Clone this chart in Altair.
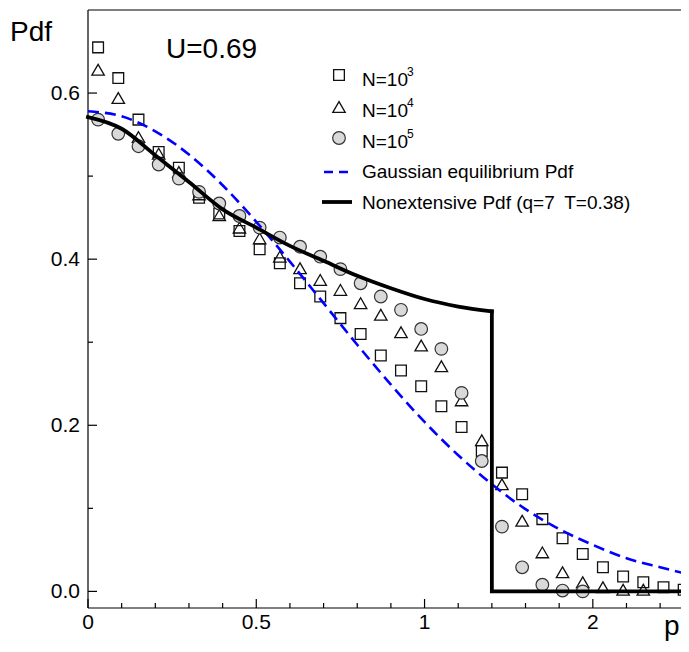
import altair as alt
import pandas as pd

# ---------------- data ----------------
p_n1e3 = [0.03, 0.09, 0.15, 0.21, 0.27, 0.33, 0.39, 0.45, 0.51, 0.57,
          0.63, 0.69, 0.75, 0.81, 0.87, 0.93, 0.99, 1.05, 1.11, 1.17,
          1.23, 1.29, 1.35, 1.41, 1.47, 1.53, 1.59, 1.65, 1.71, 1.77]
pdf_n1e3 = [0.655, 0.618, 0.568, 0.529, 0.510, 0.474, 0.455, 0.434, 0.412, 0.395,
            0.371, 0.355, 0.329, 0.310, 0.284, 0.266, 0.247, 0.223, 0.198, 0.169,
            0.143, 0.117, 0.087, 0.064, 0.045, 0.029, 0.018, 0.011, 0.005, 0.002]

p_n1e4 = p_n1e3[:28]
pdf_n1e4 = [0.628, 0.594, 0.547, 0.527, 0.505, 0.478, 0.453, 0.438, 0.425, 0.403,
            0.389, 0.375, 0.363, 0.347, 0.333, 0.312, 0.296, 0.271, 0.230, 0.182,
            0.129, 0.085, 0.047, 0.023, 0.011, 0.005, 0.002, 0.002]

p_n1e5 = p_n1e3[:25]
pdf_n1e5 = [0.568, 0.551, 0.536, 0.514, 0.497, 0.481, 0.467, 0.452, 0.438, 0.426,
            0.415, 0.403, 0.388, 0.371, 0.355, 0.339, 0.316, 0.292, 0.239, 0.157,
            0.078, 0.029, 0.008, 0.001, 0.000]

gauss_p = [0.0, 0.1, 0.2, 0.3, 0.4, 0.5, 0.6, 0.7, 0.8, 0.9,
           1.0, 1.1, 1.2, 1.3, 1.4, 1.5, 1.6, 1.7, 1.78]
gauss_pdf = [0.578, 0.572, 0.554, 0.526, 0.489, 0.445, 0.397, 0.347, 0.297, 0.249,
             0.204, 0.164, 0.129, 0.099, 0.075, 0.056, 0.040, 0.029, 0.021]

nonext_p = [0.0, 0.1, 0.2, 0.3, 0.4, 0.5, 0.6, 0.7, 0.8, 0.9, 1.0, 1.1, 1.2]
nonext_pdf = [0.571, 0.557, 0.525, 0.493, 0.460, 0.438, 0.416, 0.398, 0.380,
              0.365, 0.352, 0.343, 0.337]
# cut-off: vertical drop at p=1.2 then zero
step_p = [1.2, 1.2, 1.78]
step_pdf = [0.337, 0.0, 0.0]

x_major = [0, 0.5, 1.0, 1.5]
x_major_labels = ["0", "0.5", "1", "2"]
x_minor = [0.1, 0.2, 0.3, 0.4, 0.6, 0.7, 0.8, 0.9, 1.1, 1.2, 1.3, 1.4, 1.6, 1.7]
y_major = [0.0, 0.2, 0.4, 0.6]
y_major_labels = ["0.0", "0.2", "0.4", "0.6"]
y_minor = [0.1, 0.3, 0.5]

legend_labels = ["N=10", "N=10", "N=10", "Gaussian equilibrium Pdf",
                 "Nonextensive Pdf (q=7\u2002T=0.38)"]
legend_exponents = ["3", "4", "5"]

# ---------------- layout ----------------
W, H = 593, 598
X_MAX = 1.762
FONT = "Liberation Sans"
xs = alt.Scale(domain=[0, X_MAX], nice=False, zero=False)
ys = alt.Scale(domain=[-0.02, 0.70], nice=False, zero=False)

one = pd.DataFrame({"a": [0]})


def xy():
    return dict(x=alt.X("p:Q", scale=xs, axis=None),
                y=alt.Y("pdf:Q", scale=ys, axis=None))


# frame lines (left axis, bottom axis, top border)
frame = [
    alt.Chart(one).mark_rule(color="black", strokeWidth=1.2).encode(
        x=alt.value(0), y=alt.value(0), y2=alt.value(H)),
    alt.Chart(one).mark_rule(color="black", strokeWidth=1.2).encode(
        x=alt.value(0), x2=alt.value(W), y=alt.value(H)),
    alt.Chart(one).mark_rule(color="black", strokeWidth=1.2).encode(
        x=alt.value(0), x2=alt.value(W), y=alt.value(0)),
]


# inward ticks
def xticks(vals, length):
    return alt.Chart(pd.DataFrame({"v": vals})).mark_rule(color="black", strokeWidth=1.2).encode(
        x=alt.X("v:Q", scale=xs, axis=None), y=alt.value(H), y2=alt.value(H - length))


def yticks(vals, length):
    return alt.Chart(pd.DataFrame({"v": vals})).mark_rule(color="black", strokeWidth=1.2).encode(
        y=alt.Y("v:Q", scale=ys, axis=None), x=alt.value(0), x2=alt.value(length))


# tick labels
xlab = alt.Chart(pd.DataFrame({"v": x_major, "t": x_major_labels})).mark_text(
    font=FONT, fontSize=21, color="black", align="center", baseline="alphabetic"
).encode(x=alt.X("v:Q", scale=xs, axis=None), y=alt.value(H + 21), text="t:N")
ylab = alt.Chart(pd.DataFrame({"v": y_major, "t": y_major_labels})).mark_text(
    font=FONT, fontSize=21, color="black", align="right", baseline="middle", dy=1
).encode(y=alt.Y("v:Q", scale=ys, axis=None), x=alt.value(-8), text="t:N")

# data markers
sq = alt.Chart(pd.DataFrame({"p": p_n1e3, "pdf": pdf_n1e3})).mark_point(
    shape="square", filled=False, size=115, stroke="#111", strokeWidth=1.3, opacity=1
).encode(**xy())
tri = alt.Chart(pd.DataFrame({"p": p_n1e4, "pdf": pdf_n1e4})).mark_point(
    shape="triangle-up", filled=False, size=155, stroke="#111", strokeWidth=1.3, opacity=1
).encode(**xy())
circ = alt.Chart(pd.DataFrame({"p": p_n1e5, "pdf": pdf_n1e5})).mark_point(
    shape="circle", filled=True, size=160, fill="#d9d9d9", stroke="#333", strokeWidth=1.2, opacity=1
).encode(**xy())

gauss = alt.Chart(pd.DataFrame({"p": gauss_p, "pdf": gauss_pdf})).mark_line(
    color="#0000ff", strokeWidth=2.6, strokeDash=[11, 6], interpolate="monotone"
).encode(**xy())

nonext = alt.Chart(pd.DataFrame({"p": nonext_p, "pdf": nonext_pdf})).mark_line(
    color="black", strokeWidth=3.8, interpolate="monotone", strokeCap="square"
).encode(**xy())

step = alt.Chart(pd.DataFrame({"p": step_p, "pdf": step_pdf, "o": [0, 1, 2]})).mark_line(
    color="black", strokeWidth=3.8, strokeJoin="miter", strokeCap="square"
).encode(order="o:Q", **xy())


def text(label, x, y, size, align="left"):
    return alt.Chart(one).mark_text(
        font=FONT, fontSize=size, color="black", align=align, baseline="alphabetic"
    ).encode(x=alt.value(x), y=alt.value(y), text=alt.value(label))


# annotations
ann = [
    text("Pdf", -78, 31, 28),
    text("U=0.69", 78, 48, 28),
    text("p", 576, 625, 28),
]

# legend
LX_SYM, LX_TXT = 251, 274
LX_EXP = LX_TXT + 45
leg = []
sym_rows = [65, 97, 128]
leg.append(alt.Chart(one).mark_point(shape="square", filled=False, size=115, stroke="#111",
                                     strokeWidth=1.3, opacity=1).encode(
    x=alt.value(LX_SYM), y=alt.value(sym_rows[0])))
leg.append(alt.Chart(one).mark_point(shape="triangle-up", filled=False, size=155, stroke="#111",
                                     strokeWidth=1.3, opacity=1).encode(
    x=alt.value(LX_SYM), y=alt.value(sym_rows[1])))
leg.append(alt.Chart(one).mark_point(shape="circle", filled=True, size=160, fill="#d9d9d9",
                                     stroke="#333", strokeWidth=1.2, opacity=1).encode(
    x=alt.value(LX_SYM), y=alt.value(sym_rows[2])))
leg.append(alt.Chart(one).mark_rule(color="#0000ff", strokeWidth=2.6, strokeDash=[9, 6]).encode(
    x=alt.value(236), x2=alt.value(266), y=alt.value(162)))
leg.append(alt.Chart(one).mark_rule(color="black", strokeWidth=3.8).encode(
    x=alt.value(234), x2=alt.value(264), y=alt.value(192)))

baselines = [76, 107, 138, 168, 199]
for lab, b in zip(legend_labels, baselines):
    leg.append(text(lab, LX_TXT, b, 19))
for e, b in zip(legend_exponents, baselines[:3]):
    leg.append(text(e, LX_EXP, b - 10, 12))

chart = alt.layer(
    *frame,
    xticks(x_major, 9), xticks(x_minor, 5), yticks(y_major, 9), yticks(y_minor, 5),
    xlab, ylab,
    sq, tri, circ, gauss, nonext, step,
    *ann, *leg,
).properties(
    width=W, height=H,
    padding={"left": 80, "top": 2, "right": 0, "bottom": 36},
    autosize=alt.AutoSizeParams(type="none"),
    background="white",
).configure_view(stroke=None)

chart.save("out.html", embed_options={"renderer": "svg", "actions": False})
